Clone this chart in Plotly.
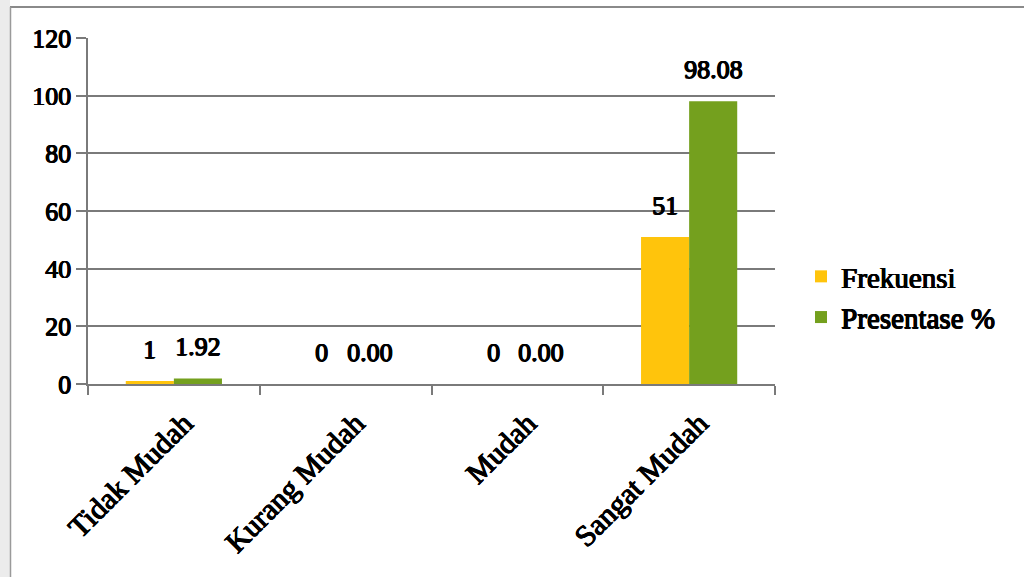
import plotly.graph_objects as go

categories = ["Tidak Mudah", "Kurang Mudah", "Mudah", "Sangat Mudah"]
frekuensi = [1, 0, 0, 51]
presentase = [1.92, 0.00, 0.00, 98.08]
frek_labels = ["1", "0", "0", "51"]
pres_labels = ["1.92", "0.00", "0.00", "98.08"]
y_ticks = [0, 20, 40, 60, 80, 100, 120]

W, H = 1024, 577
ML, MR, MT, MB = 88, 249, 38, 193
PW = W - ML - MR
PH = H - MT - MB

FONT = "Liberation Serif"
YELLOW = "#FFC40C"
GREEN = "#74A01E"
GRID = "#7a7a7a"


def px_to_paper_x(px):
    return (px - ML) / PW


def px_to_paper_y(py):
    return (H - MB - py) / PH


def bold(size):
    # heavy serif lettering: regular face thickened with a tight outline shadow
    return dict(family=FONT, size=size, color="black",
                shadow="0.8px 0 0 black, -0.4px 0 0 black, 0 0.5px 0 black, 0.4px 0.4px 0 black")


fig = go.Figure()
fig.add_trace(go.Bar(x=categories, y=frekuensi, name="Frekuensi",
                     marker=dict(color=YELLOW, line=dict(width=0))))
fig.add_trace(go.Bar(x=categories, y=presentase, name="Presentase %",
                     marker=dict(color=GREEN, line=dict(width=0))))

bar_px = PW / len(categories) * (1 - 0.44) / 2
annotations = []
for cat, v, t in zip(categories, frekuensi, frek_labels):
    annotations.append(dict(x=cat, y=v, text=t, showarrow=False, xanchor="center",
                            yanchor="bottom", xshift=-bar_px / 2, yshift=15,
                            font=bold(26)))
for cat, v, t in zip(categories, presentase, pres_labels):
    annotations.append(dict(x=cat, y=v, text=t, showarrow=False, xanchor="center",
                            yanchor="bottom", xshift=bar_px / 2, yshift=15,
                            font=bold(26)))

shapes = [
    # scanned page edge on the left
    dict(type="rect", xref="paper", yref="paper",
         x0=px_to_paper_x(0), x1=px_to_paper_x(10),
         y0=px_to_paper_y(H), y1=px_to_paper_y(0),
         fillcolor="#ececec", line=dict(width=0), layer="below"),
    # chart frame: top and left edges
    dict(type="line", xref="paper", yref="paper",
         x0=px_to_paper_x(10), x1=px_to_paper_x(W),
         y0=px_to_paper_y(7), y1=px_to_paper_y(7),
         line=dict(color="#8a8a8a", width=2)),
    dict(type="line", xref="paper", yref="paper",
         x0=px_to_paper_x(10.5), x1=px_to_paper_x(10.5),
         y0=px_to_paper_y(7), y1=px_to_paper_y(H),
         line=dict(color="#9a9a9a", width=1.5)),
]

fig.update_layout(
    width=W, height=H,
    margin=dict(l=ML, r=MR, t=MT, b=MB, pad=0, autoexpand=False),
    paper_bgcolor="white", plot_bgcolor="white",
    barmode="group", bargap=0.44, bargroupgap=0,
    font=bold(25),
    showlegend=True,
    legend=dict(x=px_to_paper_x(801), y=px_to_paper_y(297), xanchor="left",
                yanchor="middle", font=bold(29),
                bgcolor="rgba(0,0,0,0)", itemwidth=30, tracegroupgap=0),
    annotations=annotations,
    shapes=shapes,
)
fig.update_xaxes(
    type="category", tickangle=-45, showgrid=False,
    showline=True, linecolor=GRID, linewidth=1.5,
    ticks="outside", tickson="boundaries", ticklen=9, tickcolor=GRID, tickwidth=1.5,
    tickfont=bold(30), ticklabelshift=10, ticklabelstandoff=8,
)
fig.update_yaxes(
    range=[0, 120], tickvals=y_ticks, ticktext=[str(v) for v in y_ticks],
    showgrid=True, gridcolor=GRID, gridwidth=1.5,
    showline=True, linecolor=GRID, linewidth=1.5,
    ticks="outside", ticklen=10, tickcolor=GRID, tickwidth=1.5,
    tickfont=bold(26),
    zeroline=False,
)

fig.write_html("out.html")
